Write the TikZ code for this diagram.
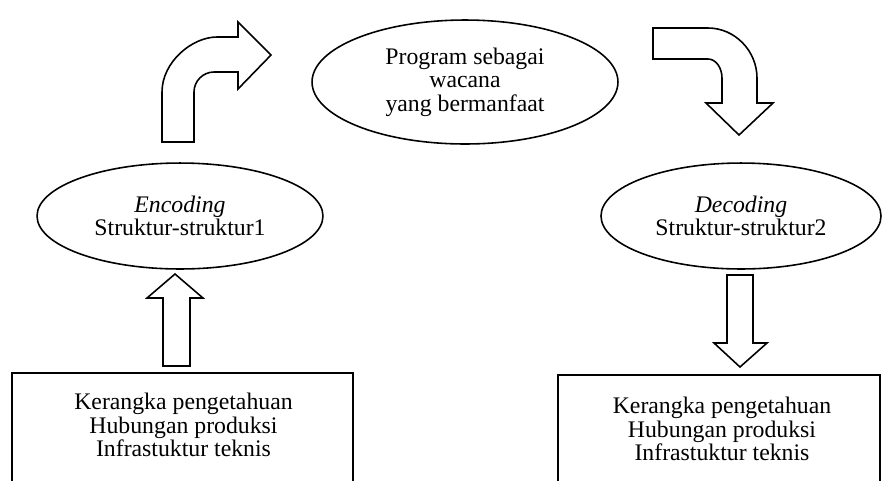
\documentclass[tikz,border=0pt]{standalone}
\usepackage{fontspec}
\setmainfont{Liberation Serif}
\usetikzlibrary{positioning,calc,shapes.geometric}
\tikzset{
  oval/.style={
    draw, ellipse, line width=0.8pt, inner sep=0pt,
    align=center, font=\fontsize{12}{11.9}\selectfont
  },
  kotak/.style={
    draw, rectangle, line width=0.8pt, inner sep=0pt
  },
  teks/.style={
    align=center, inner sep=0pt, font=\fontsize{12}{11.9}\selectfont
  },
  panah/.style={draw, line width=0.8pt, fill=white, line join=miter}
}
\begin{document}
\begin{tikzpicture}[x=0.505pt, y=-0.505pt]
  \useasboundingbox (0,0) rectangle (882,480);
  % ellipses
  \node[oval, minimum width=154.5pt, minimum height=62.6pt] (program) at (465,82)
    {Program sebagai\\wacana\\yang bermanfaat};
  \node[oval, minimum width=144.4pt, minimum height=53.5pt] (encoding) at (180,216)
    {\textit{Encoding}\\Struktur-struktur1};
  \node[oval, minimum width=141.4pt, minimum height=53.5pt] (decoding) at (741,216)
    {\textit{Decoding}\\Struktur-struktur2};
  % boxes
  \node[kotak, anchor=north, minimum width=172.2pt, minimum height=60.6pt] (kiri) at (182.5,372) {};
  \node[teks] (kiriteks) at ($(kiri.north)+(1,53)$)
    {Kerangka pengetahuan\\Hubungan produksi\\Infrastuktur teknis};
  \node[kotak, anchor=north, minimum width=162.6pt, minimum height=60.6pt] (kanan) at (719,374) {};
  \node[teks] (kananteks) at ($(kanan.north)+(3,55)$)
    {Kerangka pengetahuan\\Hubungan produksi\\Infrastuktur teknis};
  % block arrows
  \path[panah] (163,366) -- (163,298) -- (147,298) -- (175,274) -- (203,298)
    -- (190,298) -- (190,366) -- cycle;
  \path[panah] (727,275) -- (753,275) -- (753,343) -- (767,343) -- (740,367)
    -- (714,343) -- (727,343) -- cycle;
  \path[panah] (162,142) -- (162,92) .. controls (162,62) and (192,37) .. (217,37)
    -- (238,37) -- (238,22) -- (271,55) -- (238,89) -- (238,72) -- (214,72)
    .. controls (203,72) and (194,81) .. (194,92) -- (194,142) -- cycle;
  \path[panah] (653,28) -- (708,28) .. controls (735,28) and (757,51) .. (757,78)
    -- (757,103) -- (773,103) -- (739,135) -- (706,103) -- (722,103) -- (722,78)
    .. controls (722,68) and (716,59) .. (708,59) -- (653,59) -- cycle;
\end{tikzpicture}
\end{document}
